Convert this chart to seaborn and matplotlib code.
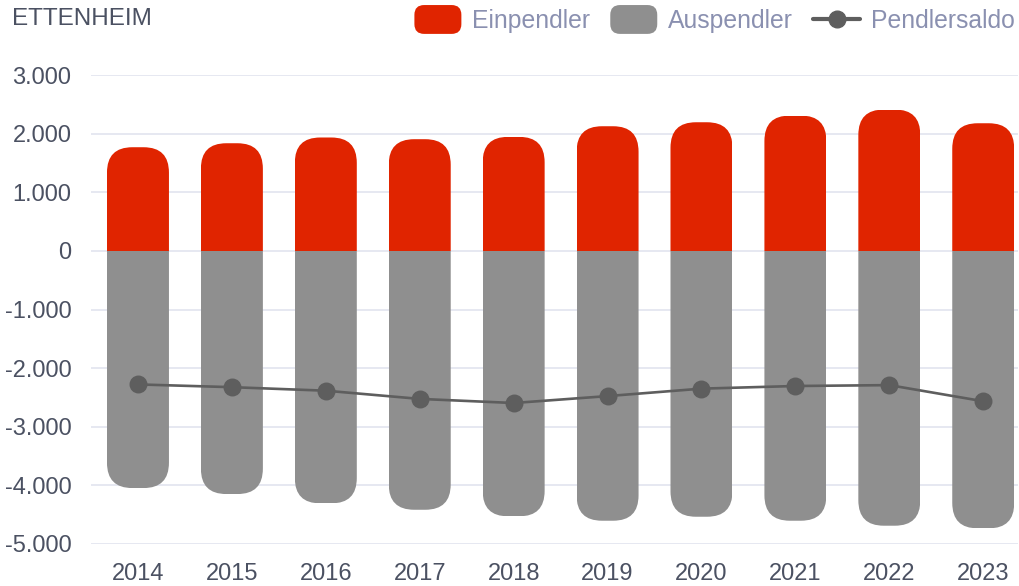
import matplotlib
matplotlib.use("Agg")
import matplotlib.pyplot as plt
import seaborn as sns
from matplotlib.patches import FancyBboxPatch, Rectangle
from matplotlib.lines import Line2D
from matplotlib.legend_handler import HandlerPatch
from matplotlib.ticker import FuncFormatter

# data (Ettenheim commuters)
years = ["2014", "2015", "2016", "2017", "2018", "2019", "2020", "2021", "2022", "2023"]
einpendler = [1768, 1836, 1934, 1905, 1945, 2126, 2194, 2308, 2411, 2177]
auspendler = [-4046, -4148, -4307, -4416, -4528, -4603, -4535, -4603, -4688, -4733]
pendlersaldo = [-2278, -2325, -2385, -2525, -2595, -2477, -2350, -2305, -2290, -2565]
yticks = [3000, 2000, 1000, 0, -1000, -2000, -3000, -4000, -5000]

red = "#e02400"
grey = "#8f8f8f"
line_c = "#5e5e5e"
text_c = "#4b5162"
legend_c = "#8a90b0"
grid_c = "#e2e4ef"

sns.set_style("white")
plt.rcParams["font.family"] = ["Liberation Sans", "DejaVu Sans"]

fig = plt.figure(figsize=(10.2, 5.86), dpi=100)
ax = fig.add_axes([91 / 1020, 42 / 586, 927 / 1020, 469 / 586])

sns.barplot(x=years, y=einpendler, color=red, width=0.66, saturation=1, ax=ax, zorder=2)
sns.barplot(x=years, y=auspendler, color=grey, width=0.66, saturation=1, ax=ax, zorder=2)

# round the outer corners of every bar
rx, ry = 0.27, 433
for p in list(ax.patches):
    x, w = p.get_x(), p.get_width()
    y0 = min(p.get_y(), p.get_y() + p.get_height())
    y1 = max(p.get_y(), p.get_y() + p.get_height())
    fc = p.get_facecolor()
    p.set_visible(False)
    if y0 >= 0:
        start = y0 - 2 * ry
    else:
        start = y0
    box = FancyBboxPatch((x, start), w, y1 - y0 + 2 * ry,
                         boxstyle=f"round,pad=0,rounding_size={rx}",
                         mutation_aspect=ry / rx, fc=fc, ec="none", zorder=2)
    ax.add_patch(box)
    clip = Rectangle((x, y0), w, y1 - y0, transform=ax.transData)
    box.set_clip_path(clip)

sns.pointplot(x=years, y=pendlersaldo, color=line_c, markers="o", markersize=11.5,
              linewidth=1.9, errorbar=None, ax=ax, zorder=4)

ax.set_xlim(-0.5, 9.37)
ax.set_ylim(-5000, 3000)
ax.set_yticks(yticks)
ax.yaxis.set_major_formatter(FuncFormatter(lambda v, _: f"{int(v):,}".replace(",", ".")))
ax.grid(axis="y", color=grid_c, linewidth=1.2, zorder=0)
ax.set_axisbelow(True)
for s in ax.spines.values():
    s.set_visible(False)
ax.tick_params(axis="both", length=0, labelsize=17, labelcolor=text_c)
ax.tick_params(axis="y", pad=14)
ax.tick_params(axis="x", pad=14)
ax.set_xlabel("")
ax.set_ylabel("")

fig.text(12 / 1020, 1 - 19 / 586, "ETTENHEIM", ha="left", va="center",
         fontsize=17.5, color=text_c)


class RoundHandler(HandlerPatch):
    def create_artists(self, legend, orig_handle, xdescent, ydescent, width, height, fontsize, trans):
        r = FancyBboxPatch((-xdescent, -ydescent - 3), width, height + 6,
                           boxstyle="round,pad=0,rounding_size=7",
                           fc=orig_handle.get_facecolor(), ec="none", transform=trans)
        return [r]


h_ein = Rectangle((0, 0), 1, 1, fc=red)
h_aus = Rectangle((0, 0), 1, 1, fc=grey)
h_sal = Line2D([], [], color=line_c, marker="o", markersize=12, linewidth=3)
leg = fig.legend([h_ein, h_aus, h_sal], ["Einpendler", "Auspendler", "Pendlersaldo"],
                 loc="upper right", bbox_to_anchor=(1015 / 1020, 1 - 9 / 586), ncol=3,
                 frameon=False, fontsize=17.8, handlelength=1.9, handleheight=0.9,
                 handletextpad=0.45, columnspacing=0.8, borderpad=0, borderaxespad=0,
                 handler_map={Rectangle: RoundHandler()})
for t in leg.get_texts():
    t.set_color(legend_c)

fig.savefig("out.png", dpi=100)
